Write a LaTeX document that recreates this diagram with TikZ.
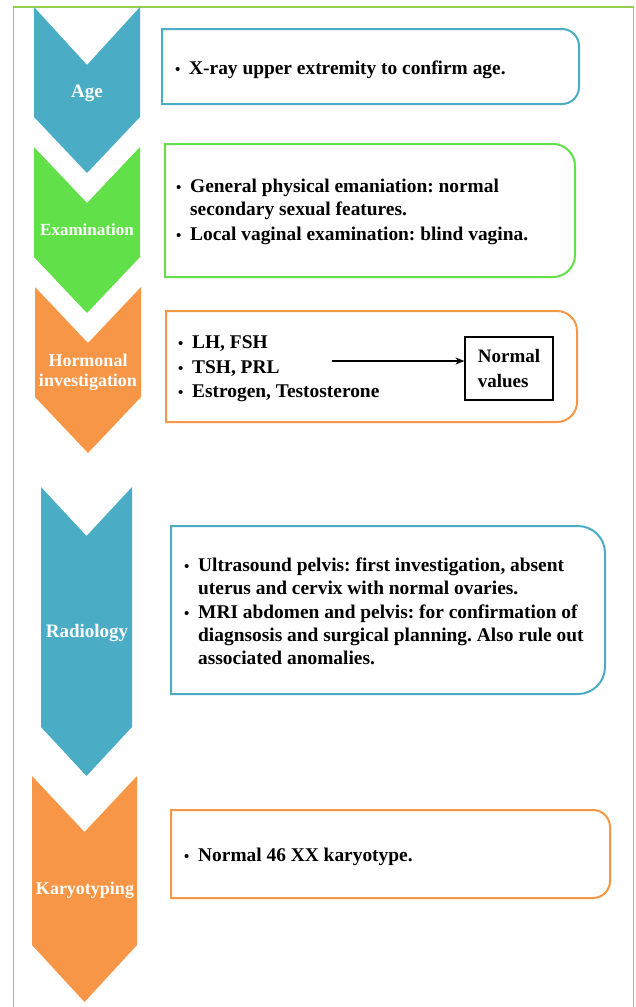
\documentclass[tikz,border=0pt]{standalone}
\usepackage{fontspec}
\setmainfont{Liberation Serif}
\usetikzlibrary{arrows.meta}
\definecolor{cblue}{HTML}{4BACC6}
\definecolor{cgreen}{HTML}{62E04A}
\definecolor{corange}{HTML}{F79646}
\definecolor{cframe}{HTML}{92D050}
\newcommand\bu{\makebox[14pt][l]{\fontsize{15}{15}\selectfont\textbullet}}
\newcommand\rbox[6]{\draw[#6,line width=2pt] (#1,#2) -- ({#3-#5},#2) arc[start angle=-90,end angle=0,radius=#5] -- (#3,{#4-#5}) arc[start angle=0,end angle=90,radius=#5] -- (#1,#4) -- cycle;}
\newcommand\chev[8]{\fill[#8] (#1,#3) -- (#7,#4) -- (#2,#3) -- (#2,#5) -- (#7,#6) -- (#1,#5) -- cycle;}
\tikzset{
  chevlabel/.style={text=white,font=\bfseries\fontsize{18}{20}\selectfont,align=center,inner sep=0pt},
  boxtext/.style={anchor=west,inner sep=0pt,font=\bfseries\fontsize{19.4}{23}\selectfont\frenchspacing},
  nvbox/.style={draw=black,line width=1.2pt,minimum width=88pt,minimum height=63pt,align=left,inner sep=2pt,font=\bfseries\fontsize{19}{25}\selectfont}
}
\begin{document}
\begin{tikzpicture}[x=1pt,y=-1pt]
\useasboundingbox (0,0) rectangle (635,1007);
% outer frame
\draw[cframe,line width=1.5pt] (13.5,1010) -- (13.5,7) -- (633.5,7) -- (633.5,1010);
% chevrons
\chev{34}{140}{7}{65}{117}{173}{87}{cblue}
\chev{34}{140}{147}{203}{257}{313}{87}{cgreen}
\chev{35}{141}{287}{343}{397}{453}{88}{corange}
\chev{41}{132}{487}{536}{727}{776}{86.5}{cblue}
\chev{32}{137}{776}{832}{945}{1002}{84.5}{corange}
\node[chevlabel,font=\bfseries\fontsize{19}{20}\selectfont] (lage) at (87,93) {Age};
\node[chevlabel,font=\bfseries\fontsize{17}{20}\selectfont] (lexam) at (87,230) {Examination};
\node[chevlabel] (lhorm) at (88,372) {Hormonal\\investigation};
\node[chevlabel,font=\bfseries\fontsize{19}{20}\selectfont] (lrad) at (87,633) {Radiology};
\node[chevlabel] (lkar) at (85,890) {Karyotyping};
% boxes
\rbox{162}{29}{579}{104}{17}{cblue}
\rbox{165}{144}{575}{277}{22}{cgreen}
\rbox{166}{311}{577}{422}{20}{corange}
\rbox{171}{526}{605}{694}{27}{cblue}
\rbox{171}{810}{610}{898}{17}{corange}
% texts
\node[boxtext] (tage) at (175,70) {\begin{tabular}{@{}l@{}l@{}}\bu & X-ray upper extremity to confirm age.\end{tabular}};
\node[boxtext] (texam) at (176,212) {\begin{tabular}{@{}l@{}l@{}}\bu & General physical emaniation: normal\\ & secondary sexual features.\\[2pt] \bu & Local vaginal examination: blind vagina.\end{tabular}};
\node[boxtext] (thorm) at (178,368.5) {\begin{tabular}{@{}l@{}l@{}}\bu & LH, FSH\\[2pt] \bu & TSH, PRL\\[1pt] \bu & Estrogen, Testosterone\end{tabular}};
\node[boxtext] (trad) at (184,613) {\begin{tabular}{@{}l@{}l@{}}\bu & Ultrasound pelvis: first investigation, absent\\ & uterus and cervix with normal ovaries.\\[1pt] \bu & MRI abdomen and pelvis: for confirmation of\\ & diagnsosis and surgical planning. Also rule out\\ & associated anomalies.\end{tabular}};
\node[boxtext] (tkar) at (184,857) {\begin{tabular}{@{}l@{}l@{}}\bu & Normal 46 XX karyotype.\end{tabular}};
% normal values
\node[nvbox] (nv) at (509,368.5) {Normal\\values};
\coordinate (astart) at (332,361);
\draw[line width=1.2pt,-{Stealth[length=9pt,width=7pt]}] (astart) -- (astart -| nv.west);
\end{tikzpicture}
\end{document}
